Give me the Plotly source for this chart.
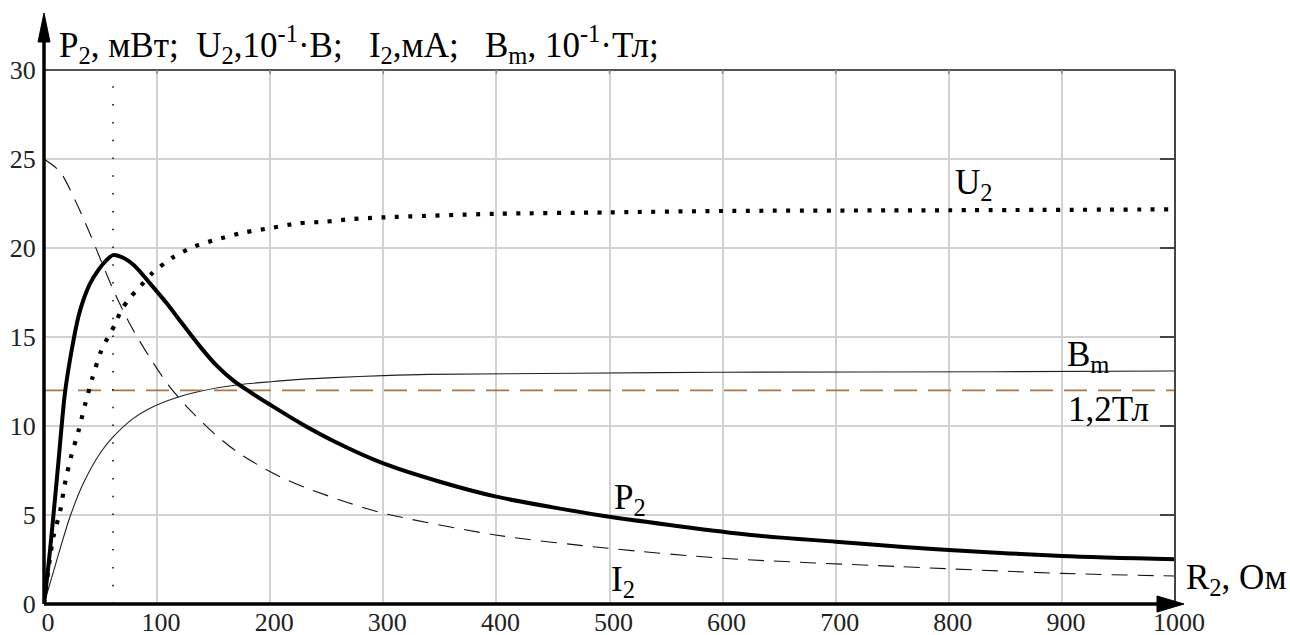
import plotly.graph_objects as go

# Load resistance R2, Ohm
R_P2 = [0, 2.4, 5.3, 10, 13.5, 15.6, 18.6, 24.5, 30.4, 34.8, 40.7, 48, 55.5, 61, 70, 80,
        93.7, 108.5, 123.2, 138, 152.7, 167.5, 182.2, 199.3, 226.4, 255.9, 300, 350, 400,
        450, 500, 625, 700, 757, 800, 900, 1000]
# Output power P2, mW
P2 = [0, 1.3, 3.0, 6.1, 8.5, 10.0, 11.9, 14.27, 16.14, 17.08, 18.0, 18.76, 19.33, 19.6,
      19.45, 19.0, 18.01, 16.89, 15.67, 14.46, 13.39, 12.55, 11.91, 11.22, 10.17, 9.16,
      7.9, 6.87, 6.03, 5.43, 4.9, 3.88, 3.5, 3.22, 3.03, 2.7, 2.51]

R_U2 = [0, 4.7, 8.2, 14.2, 18.3, 23.6, 30.4, 36.3, 42.8, 50.4, 56.3, 62.8, 68, 76,
        85.5, 96, 113.6, 133.6, 156.6, 177.9, 202, 225, 249, 273, 300, 400, 500, 600,
        800, 1000]
# Output voltage U2, 0.1 V
U2 = [0, 2.3, 3.76, 5.2, 6.7, 8.2, 9.7, 11.2, 12.7, 14.2, 14.96, 15.7, 16.46, 17.2,
      17.87, 18.6, 19.46, 20.1, 20.55, 20.88, 21.14, 21.39, 21.48, 21.63, 21.72, 21.92,
      22.0, 22.08, 22.12, 22.17]

R_I2 = [0, 14, 27.4, 40, 51, 63, 77, 94, 110, 129, 150, 170.5, 191, 212, 232.5, 271, 300,
        399, 499, 600, 757, 900, 1000]
# Load current I2, mA
I2 = [25.0, 24.3, 22.7, 20.9, 19.2, 17.4, 15.6, 13.8, 12.3, 10.9, 9.6, 8.56, 7.75, 7.05,
      6.5, 5.65, 5.1, 3.88, 3.13, 2.57, 2.1, 1.72, 1.57]

R_BM = [0, 11, 23, 34.8, 49.6, 61.3, 79, 93.8, 117.4, 138, 173.5, 203, 226.5, 256, 300,
        340, 470, 600, 840, 1000]
# Peak flux density Bm, 0.1 T
BM = [0, 2.4, 4.9, 6.78, 8.47, 9.4, 10.43, 11.0, 11.6, 11.95, 12.33, 12.5, 12.62,
      12.72, 12.83, 12.9, 12.96, 13.02, 13.05, 13.09]

B_LIMIT = 12.0      # 1,2 T saturation level, 0.1 T
R_PEAK = 61         # load at maximum power

X_TICKS = list(range(0, 1001, 100))
Y_TICKS = list(range(0, 31, 5))
X_RANGE = [0, 1000]
Y_RANGE = [0, 30]

# figure geometry (pixels)
W, H = 1290, 635
ML, MR, MT, MB = 44, 115, 70, 31
PW, PH = W - ML - MR, H - MT - MB


def px(x):
    return (x - ML) / PW


def py(y):
    return (H - MB - y) / PH


SERIF = "Liberation Serif, Times New Roman, serif"
NB = "\u00a0"

fig = go.Figure()

fig.add_trace(go.Scatter(x=R_I2, y=I2, mode="lines",
                         line=dict(color="#111", width=1.1, dash="16px,10px",
                                   shape="spline", smoothing=0.8)))
fig.add_trace(go.Scatter(x=R_BM, y=BM, mode="lines",
                         line=dict(color="#222", width=1.1, shape="spline", smoothing=0.8)))
fig.add_trace(go.Scatter(x=X_RANGE, y=[B_LIMIT, B_LIMIT], mode="lines",
                         line=dict(color="#A8774A", width=1.6, dash="23px,11px")))
fig.add_trace(go.Scatter(x=[R_PEAK, R_PEAK], y=Y_RANGE, mode="lines",
                         line=dict(color="#000", width=1.5, dash="1.5px,16.3px")))
fig.add_trace(go.Scatter(x=R_U2, y=U2, mode="lines",
                         line=dict(color="#000", width=4.2, dash="4px,9.5px",
                                   shape="spline", smoothing=0.8)))
fig.add_trace(go.Scatter(x=R_P2, y=P2, mode="lines",
                         line=dict(color="#000", width=4, shape="spline", smoothing=0.8)))

shapes = []
# right border with inward ticks
shapes.append(dict(type="line", xref="paper", yref="paper", x0=1, x1=1, y0=0, y1=1,
                   line=dict(color="#444", width=2)))
for v in Y_TICKS[1:-1]:
    shapes.append(dict(type="line", xref="paper", yref="y", x0=1 - 15 / PW, x1=1,
                       y0=v, y1=v, line=dict(color="#444", width=2)))
# top border with short ticks
shapes.append(dict(type="line", xref="paper", yref="paper", x0=0, x1=1, y0=1, y1=1,
                   line=dict(color="#555", width=2.2)))
for v in X_TICKS[1:-1]:
    shapes.append(dict(type="line", xref="x", yref="paper", x0=v, x1=v,
                       y0=1, y1=1 - 4 / PH, line=dict(color="#888", width=1.5)))
# vertical axis with arrow
shapes.append(dict(type="line", xref="paper", yref="paper", x0=0, x1=0, y0=0, y1=py(40),
                   line=dict(color="#000", width=3.5)))
shapes.append(dict(type="path", xref="paper", yref="paper",
                   path=f"M {px(44)},{py(13)} L {px(38)},{py(42)} L {px(50)},{py(42)} Z",
                   fillcolor="#000", line=dict(color="#000", width=1)))
# horizontal axis with arrow
shapes.append(dict(type="line", xref="paper", yref="paper", x0=0, x1=px(1160), y0=0, y1=0,
                   line=dict(color="#000", width=3.5)))
shapes.append(dict(type="path", xref="paper", yref="paper",
                   path=f"M {px(1184)},{py(604)} L {px(1157)},{py(596)} L {px(1157)},{py(612)} Z",
                   fillcolor="#000", line=dict(color="#000", width=1)))

lab = dict(size=35, color="#000", family=SERIF)


def label(x, y, text):
    # curve captions, placed by pixel position of their left edge / centre line
    return dict(xref="paper", yref="paper", x=px(x), y=py(y), xanchor="left",
                yanchor="middle", text=text, showarrow=False, font=lab)


annotations = [
    label(57, 44, "P<sub>2</sub>, мВт;" + NB * 2 + "U<sub>2</sub>,10<sup>-1</sup>·В;" + NB * 3 +
          "I<sub>2</sub>,мА;" + NB * 3 + "B<sub>m</sub>, 10<sup>-1</sup>·Тл;"),
    label(953, 184, "U<sub>2</sub>"),
    label(612, 499, "P<sub>2</sub>"),
    label(609, 581, "I<sub>2</sub>"),
    label(1065, 356, "B<sub>m</sub>"),
    label(1066, 409, "1,2Тл"),
    label(1184, 579, "R<sub>2</sub>, Ом"),
]

tick_font = dict(size=26, color="#222", family=SERIF)
fig.update_layout(
    width=W, height=H,
    margin=dict(l=ML, r=MR, t=MT, b=MB, pad=0),
    paper_bgcolor="white", plot_bgcolor="white",
    font=dict(family=SERIF, size=26, color="#222"),
    showlegend=False,
    shapes=shapes, annotations=annotations,
    xaxis=dict(range=X_RANGE, tickvals=X_TICKS, showgrid=True, gridcolor="#d2d2d2",
               gridwidth=1.5, zeroline=False, showline=False, ticks="",
               tickfont=tick_font, ticklabelshift=4, automargin=False, fixedrange=True),
    yaxis=dict(range=Y_RANGE, tickvals=Y_TICKS, showgrid=True, gridcolor="#d2d2d2",
               gridwidth=1.5, zeroline=False, showline=False, ticks="outside",
               ticklen=2, tickcolor="rgba(0,0,0,0)", tickfont=tick_font,
               automargin=False, fixedrange=True),
)

fig.write_html("out.html", config={"displayModeBar": False})
